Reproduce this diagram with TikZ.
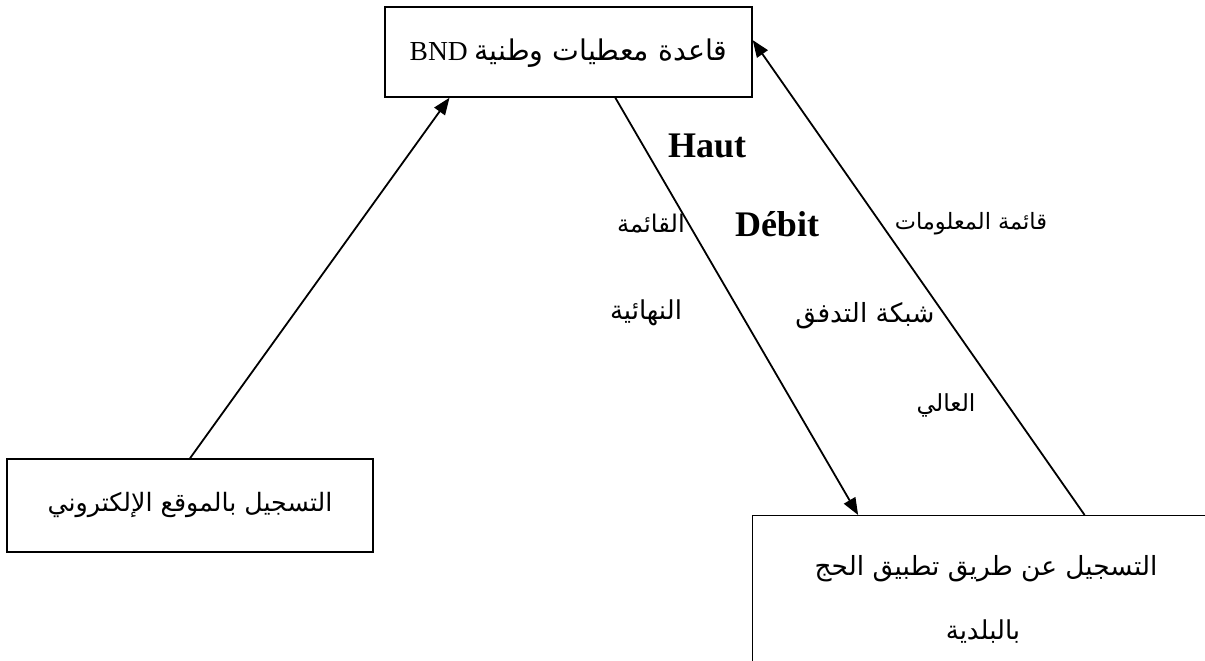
\documentclass[tikz,border=0pt]{standalone}
\usepackage{fontspec}
\setmainfont{Liberation Serif}
\newfontfamily\arabicfont[Script=Arabic]{DejaVu Sans}
\TeXXeTstate=1
\usetikzlibrary{arrows.meta,calc}
% right-to-left Arabic run
\newcommand\artext[1]{{\arabicfont\beginR #1\endR}}

\begin{document}
\begin{tikzpicture}[x=1pt,y=-1pt,
  box/.style={draw, line width=1.4pt, inner sep=0pt},
  link/.style={line width=1.8pt, -{Triangle[length=17pt,width=13pt]}},
  ar/.style={inner sep=0pt, font=\fontsize{#1}{#1}\selectfont},
  latin/.style={inner sep=0pt, font=\fontsize{27.5}{32}\selectfont},
  boldlbl/.style={inner sep=0pt, font=\fontsize{36}{40}\selectfont\bfseries}]
\clip (0,0) rectangle (1205,661);
\fill[white] (0,0) rectangle (1205,661);

% boxes
\node[box, minimum width=367pt, minimum height=90pt] (tbox) at (568.5,52) {};
\node[box, minimum width=366pt, minimum height=93pt] (lbox) at (190,505.5) {};
\node[box, anchor=north west, minimum width=458pt, minimum height=155pt] (rbox) at (752,515) {};

% box texts
\node[latin] (ttext) at (568.5,53) {BND \artext{\fontsize{28.5}{32}\selectfont قاعدة معطيات وطنية}};
\node[ar=25.3] (ltext) at (190,505) {\artext{التسجيل بالموقع الإلكتروني}};
\node[ar=26.4] (rtext1) at (986,569) {\artext{التسجيل عن طريق تطبيق الحج}};
\node[ar=26] (rtext2) at (983,632) {\artext{بالبلدية}};

% connector labels
\node[boldlbl] (haut) at (707,146) {Haut};
\node[boldlbl] (debit) at (777,224) {Débit};
\node[ar=24.3] (l1) at (651,224) {\artext{القائمة}};
\node[ar=26] (l2) at (646,313) {\artext{النهائية}};
\node[ar=22.5] (l3) at (971,224) {\artext{قائمة المعلومات}};
\node[ar=26.4] (l4) at (865,316) {\artext{شبكة التدفق}};
\node[ar=23.5] (l5) at (946,405) {\artext{العالي}};

% connectors
\draw[link] (lbox.north) -- ($(tbox.south west)!0.177!(tbox.south east)$);
\draw[link] ($(tbox.south west)!0.627!(tbox.south east)$) -- ($(rbox.north west)!0.231!(rbox.north east)$);
\draw[link] ($(rbox.north west)!0.724!(rbox.north east)$) -- ($(tbox.north east)!0.37!(tbox.south east)$);
\end{tikzpicture}
\end{document}
